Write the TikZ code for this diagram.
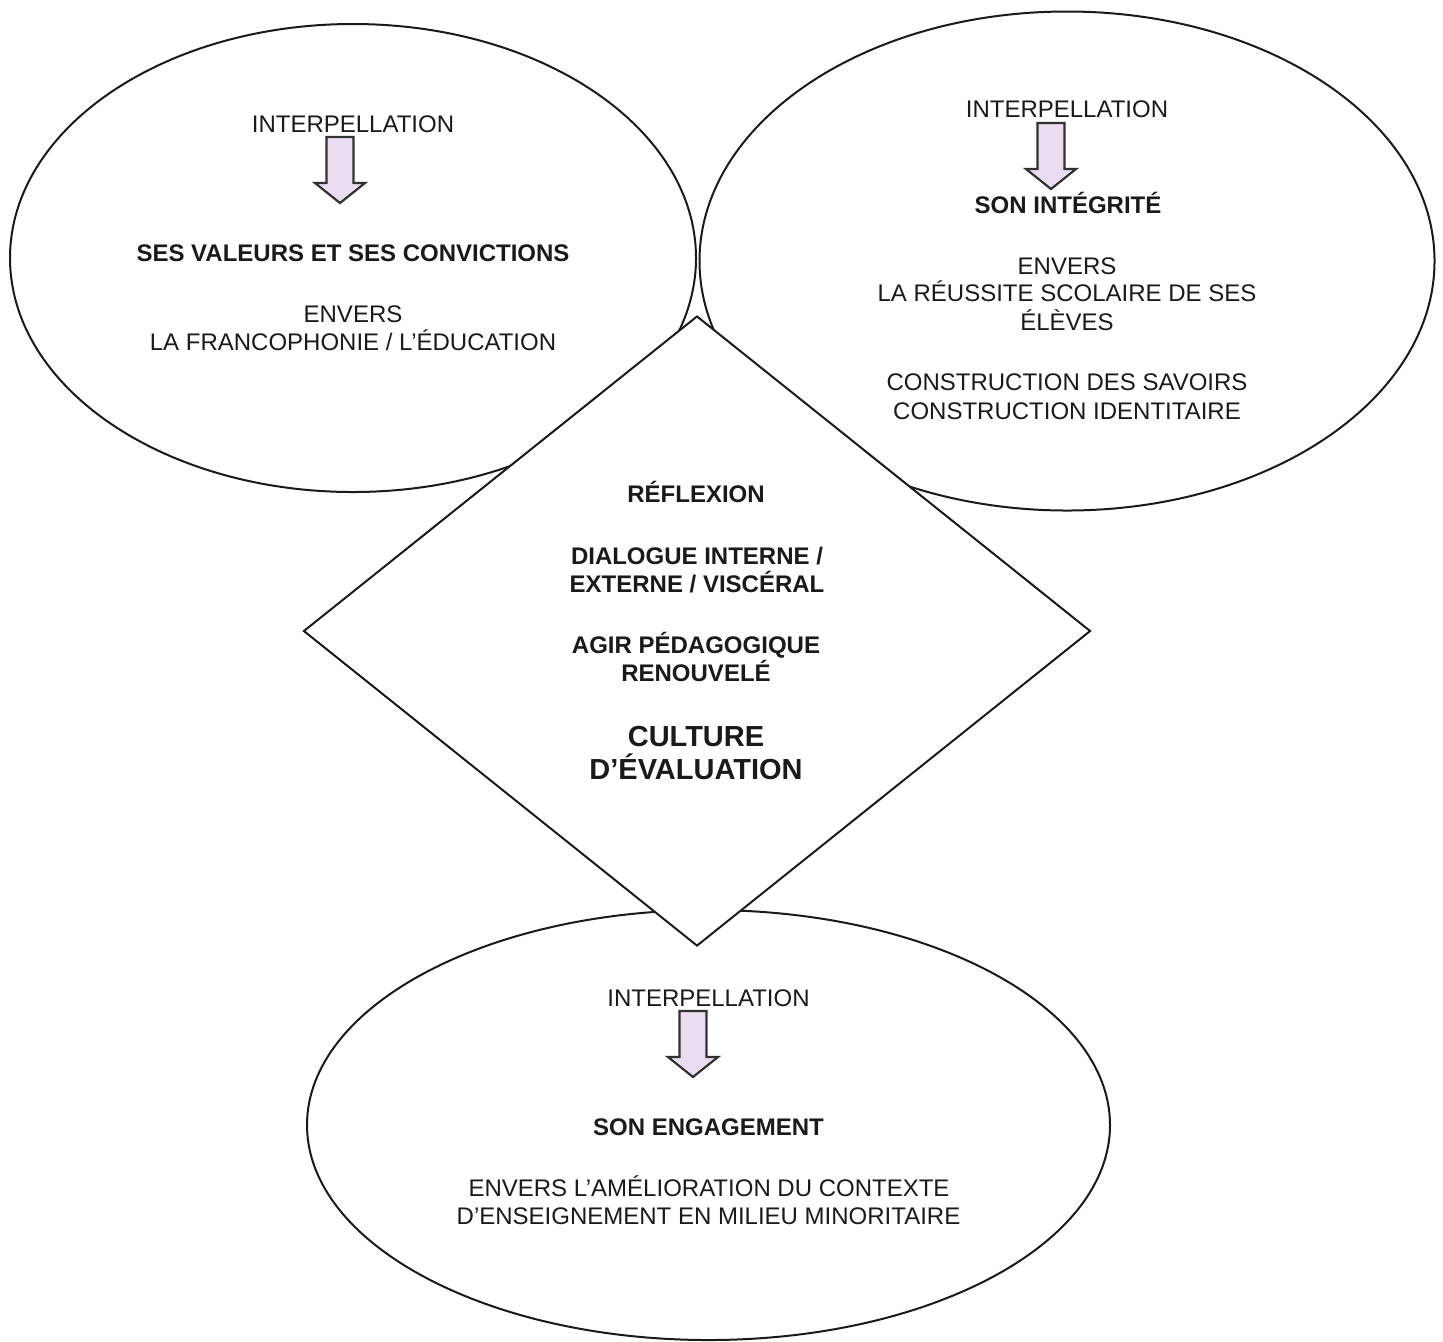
\documentclass[tikz,border=0pt]{standalone}
\usepackage{fontspec}
\setmainfont{Liberation Sans}
\usetikzlibrary{shapes.geometric}
\definecolor{ink}{HTML}{1A1A1A}
\definecolor{lav}{HTML}{EADDF0}
\tikzset{
  shapeline/.style={draw=ink, line width=1pt, fill=white, inner sep=0pt},
  oval/.style={shapeline, ellipse},
  rhombus/.style={shapeline, diamond},
  txt/.style={anchor=base, inner sep=0pt, text=ink, font=\fontsize{12}{14}\selectfont},
  btxt/.style={txt, font=\fontsize{12}{14}\selectfont\bfseries},
  bigtxt/.style={txt, font=\fontsize{14.5}{17}\selectfont\bfseries},
  downarrow/.pic={
    \draw[draw=ink!90, line width=1.1pt, fill=lav, line join=miter]
      (-13.5,0) -- (13.5,0) -- (13.5,46) -- (25,46) -- (0,66) -- (-25,46) -- (-13.5,46) -- cycle;
  }
}
\begin{document}
\begin{tikzpicture}[x=0.5pt, y=-0.5pt]
\useasboundingbox (0,0) rectangle (1443,1341);
% ellipses
\node[oval, minimum width=343pt, minimum height=234pt] (left) at (353,258) {};
\node[oval, minimum width=367.5pt, minimum height=249.5pt] (right) at (1067,261) {};
\node[oval, minimum width=401.5pt, minimum height=215pt] (bottom) at (708.5,1125) {};
% diamond
\node[rhombus, minimum width=393.5pt, minimum height=315pt] (center) at (697,631) {};

% left ellipse
\node[txt] (l1) at (353,132) {INTERPELLATION};
\pic (la) at (340,137) {downarrow};
\node[btxt] (l2) at (353,261.5) {SES VALEURS ET SES CONVICTIONS};
\node[txt] (l3) at (353,322.5) {ENVERS};
\node[txt] (l4) at (353,350.5) {LA FRANCOPHONIE / L’ÉDUCATION};

% right ellipse
\node[txt] (r1) at (1067,117) {INTERPELLATION};
\pic (ra) at (1051,123) {downarrow};
\node[btxt] (r2) at (1068,213) {SON INTÉGRITÉ};
\node[txt] (r3) at (1067,274) {ENVERS};
\node[txt] (r4) at (1067,301.5) {LA RÉUSSITE SCOLAIRE DE SES};
\node[txt] (r5) at (1067,330.5) {ÉLÈVES};
\node[txt] (r6) at (1067,390) {CONSTRUCTION DES SAVOIRS};
\node[txt] (r7) at (1067,419) {CONSTRUCTION IDENTITAIRE};

% diamond
\node[btxt] (c1) at (696,502) {RÉFLEXION};
\node[btxt] (c2) at (697,564) {DIALOGUE INTERNE /};
\node[btxt] (c3) at (697,592) {EXTERNE / VISCÉRAL};
\node[btxt] (c4) at (696,653) {AGIR PÉDAGOGIQUE};
\node[btxt] (c5) at (696,681) {RENOUVELÉ};
\node[bigtxt] (c6) at (696,746) {CULTURE};
\node[bigtxt] (c7) at (696,779) {D’ÉVALUATION};

% bottom ellipse
\node[txt] (b1) at (708.5,1006) {INTERPELLATION};
\pic (ba) at (693,1011) {downarrow};
\node[btxt] (b2) at (708.5,1135) {SON ENGAGEMENT};
\node[txt] (b3) at (709,1196.5) {ENVERS L’AMÉLIORATION DU CONTEXTE};
\node[txt] (b4) at (708.5,1224) {D'ENSEIGNEMENT EN MILIEU MINORITAIRE};
\end{tikzpicture}
\end{document}
